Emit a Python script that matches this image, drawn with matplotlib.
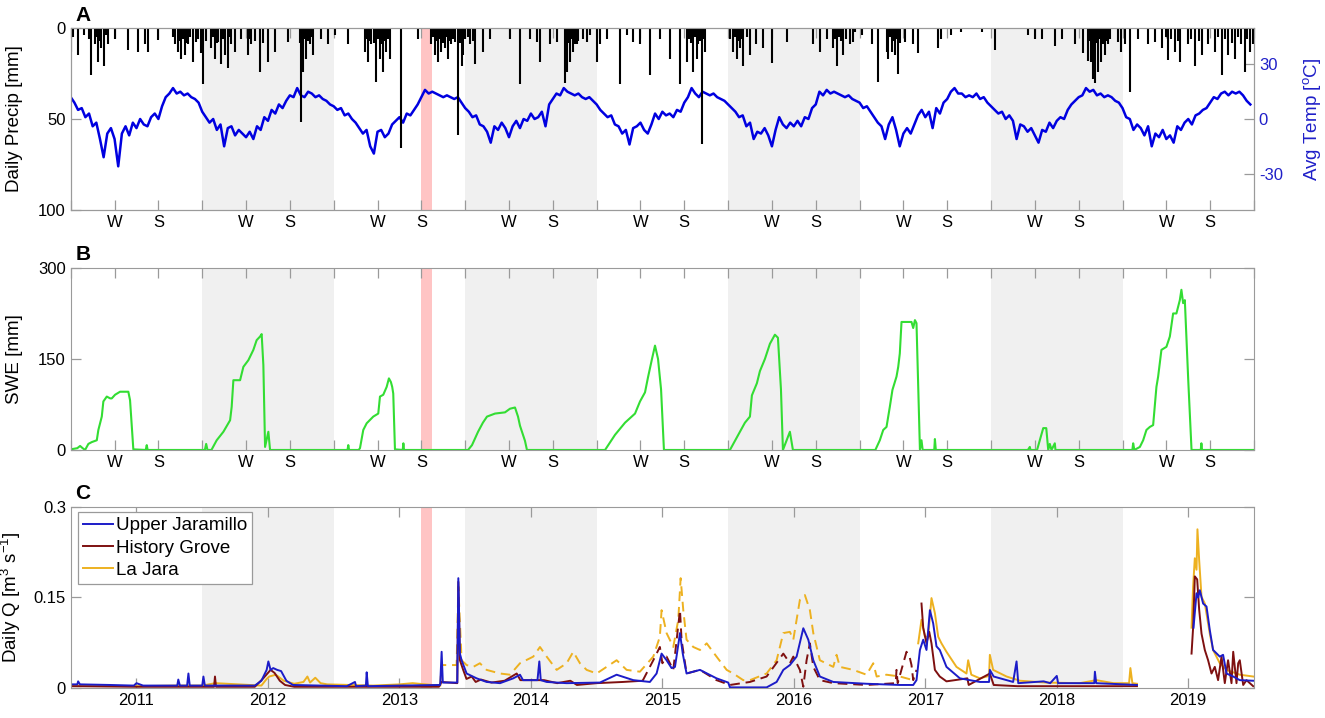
import numpy as np
import matplotlib
matplotlib.use("Agg")
import matplotlib.pyplot as plt

plt.rcParams['font.family'] = ['Liberation Sans', 'DejaVu Sans']
plt.rcParams['mathtext.fontset'] = 'custom'
plt.rcParams['mathtext.rm'] = 'Liberation Sans'
plt.rcParams['mathtext.it'] = 'Liberation Sans:italic'

## Data (x axis in decimal years, as labelled on the figure)

# daily average temperature, sampled every 1/36 year from 2010.5
temp_start = 2010.5
temp_c = [
    12, 9, 5, 6, 1, 3, -4, -2, -11, -21, -8, -5, -11, -26, -8, -4, -9, -2,
    -5, 0, -3, -4, 1, 3, 0, 7, 12, 14, 17, 14, 15, 13, 14, 12, 11, 9,
    4, 1, -2, 0, -6, -3, -15, -5, -4, -9, -6, -8, -10, -7, -11, -4, -6, 1,
    -1, 5, 3, 8, 6, 10, 13, 12, 17, 13, 12, 15, 14, 12, 13, 11, 10, 8,
    7, 5, 6, 2, 3, 0, -2, -5, -8, -6, -15, -19, -7, -6, -10, -8, -3, -1,
    1, -2, 3, 2, 5, 8, 12, 16, 14, 15, 14, 13, 12, 13, 12, 11, 12, 9,
    6, 4, 1, 2, -3, -4, -7, -13, -4, -6, -2, -5, -10, -4, -1, -5, 0, -1,
    3, 0, 1, 4, -4, 8, 11, 14, 13, 17, 15, 14, 13, 14, 12, 11, 12, 10,
    8, 5, 3, 1, 2, -3, -4, -8, -6, -14, -5, -4, -2, -6, -8, -3, 3, 0,
    4, 2, 3, 1, 5, 4, 9, 12, 17, 14, 12, 15, 14, 13, 14, 12, 11, 10,
    8, 6, 4, 1, 2, -4, -2, -11, -7, -8, -5, -9, -15, -6, 1, -3, -5, -2,
    -4, -1, -4, 1, 0, 6, 8, 15, 13, 16, 14, 15, 14, 13, 12, 13, 11, 10,
    9, 6, 7, 4, 1, -2, -4, -11, -3, 1, -6, -15, -8, -5, -8, -3, 2, 5,
    1, 4, -5, 6, 3, 9, 11, 15, 17, 14, 14, 12, 13, 12, 14, 11, 12, 9,
    7, 5, 3, 4, 0, 2, -1, -11, -3, -4, -7, -5, -9, -13, -6, -7, -2, -5,
    -1, 1, 0, 5, 8, 10, 12, 13, 17, 15, 16, 13, 14, 12, 13, 12, 10, 9,
    6, 1, 0, -6, -3, -5, -9, -4, -15, -8, -10, -6, -11, -9, -13, -4, -6, -2,
    0, -3, 2, 3, 5, 6, 9, 12, 11, 14, 15, 13, 15, 14, 15, 13, 10, 8,
]

# daily precipitation events [mm]
precip_x = [
    2010.505, 2010.556, 2010.657, 2010.682, 2010.708, 2010.733, 2010.753, 2010.784,
    2010.834, 2010.936, 2011.012, 2011.063, 2011.088, 2011.164, 2011.291, 2011.316,
    2011.341, 2011.367, 2011.392, 2011.430, 2011.455, 2011.493, 2011.506, 2011.569,
    2011.595, 2011.620, 2011.646, 2011.671, 2011.696, 2011.722, 2011.747, 2011.798,
    2011.848, 2011.874, 2011.937, 2012.000, 2012.051, 2012.152, 2012.254, 2012.267,
    2012.292, 2012.317, 2012.343, 2012.406, 2012.457, 2012.507, 2012.609, 2012.735,
    2012.761, 2012.786, 2012.824, 2012.850, 2012.875, 2012.900, 2012.926, 2013.014,
    2013.141, 2013.243, 2013.268, 2013.293, 2013.319, 2013.344, 2013.369, 2013.395,
    2013.420, 2013.445, 2013.473, 2013.483, 2013.537, 2013.575, 2013.638, 2013.689,
    2013.841, 2013.917, 2013.993, 2014.044, 2014.069, 2014.145, 2014.196, 2014.259,
    2014.272, 2014.297, 2014.322, 2014.348, 2014.398, 2014.424, 2014.449, 2014.500,
    2014.525, 2014.576, 2014.677, 2014.728, 2014.779, 2014.829, 2014.905, 2014.981,
    2015.058, 2015.134, 2015.184, 2015.235, 2015.260, 2015.273, 2015.298, 2015.324,
    2015.514, 2015.539, 2015.564, 2015.590, 2015.615, 2015.666, 2015.716, 2015.767,
    2015.831, 2015.945, 2016.148, 2016.198, 2016.249, 2016.300, 2016.325, 2016.376,
    2016.426, 2016.452, 2016.464, 2016.515, 2016.591, 2016.642, 2016.705, 2016.718,
    2016.743, 2016.769, 2016.794, 2016.845, 2016.908, 2016.946, 2017.098, 2017.123,
    2017.199, 2017.275, 2017.428, 2017.529, 2017.782, 2017.833, 2017.884, 2017.985,
    2018.036, 2018.137, 2018.201, 2018.239, 2018.264, 2018.277, 2018.289, 2018.315,
    2018.340, 2018.365, 2018.391, 2018.467, 2018.492, 2018.518, 2018.556, 2018.619,
    2018.695, 2018.746, 2018.797, 2018.847, 2018.898, 2018.936, 2018.999, 2019.050,
    2019.101, 2019.151, 2019.202, 2019.253, 2019.303, 2019.354, 2019.405, 2019.430,
    2019.468, 2019.493,
    # smaller events inside the wet clusters
    2010.520, 2010.600, 2010.640, 2010.700, 2010.720, 2010.770, 2011.280, 2011.330,
    2011.355, 2011.380, 2011.410, 2011.470, 2011.530, 2011.580, 2011.610, 2011.660,
    2011.710, 2011.860, 2011.900, 2011.960, 2012.240, 2012.280, 2012.305, 2012.330,
    2012.750, 2012.775, 2012.810, 2012.838, 2012.862, 2012.888, 2012.912, 2013.255,
    2013.280, 2013.305, 2013.330, 2013.357, 2013.382, 2013.407, 2013.460, 2013.500,
    2013.520, 2013.560, 2014.285, 2014.310, 2014.335, 2014.360, 2015.200, 2015.220,
    2015.248, 2015.285, 2015.310, 2015.550, 2015.578, 2015.602, 2015.640, 2016.310,
    2016.340, 2016.360, 2016.400, 2016.730, 2016.756, 2016.781, 2016.808, 2018.250,
    2018.300, 2018.328, 2018.352, 2018.378, 2018.404, 2018.830, 2018.870, 2018.920,
    2019.020, 2019.080, 2019.230, 2019.280, 2019.330, 2019.380, 2019.450,
]
precip_mm = [
    13, 15, 26, 9, 18.5, 11, 21, 9, 6, 12, 13, 9, 13, 6.6, 9, 13,
    17, 15, 9, 18.5, 7.5, 14, 31, 11, 17, 7.5, 20, 15, 22, 9, 13, 6,
    15, 9, 24, 18.5, 13, 7.5, 51.5, 24, 17, 9, 15, 6, 9, 4, 9, 13,
    18.5, 9, 29.5, 17, 24, 13, 17, 66, 6, 9, 15, 18.5, 13, 11, 17, 9,
    7.5, 59, 21, 15, 9, 20, 13, 6, 6, 31, 6, 7.5, 18.5, 9, 7.5, 30,
    24, 18.5, 13, 9, 6, 7.5, 4, 18.5, 9, 6, 31, 4, 7.5, 9, 26, 6,
    17, 31, 18.5, 24, 17, 9, 64, 13, 6, 13, 17, 11, 21, 15, 9, 11,
    19, 7.5, 9, 13, 6, 11, 21, 15, 9, 7.5, 2, 4, 9, 29.5, 13, 17,
    13, 15, 25, 7.5, 9, 14, 11, 6, 4, 2, 2, 12, 4, 6, 6, 10,
    6, 9, 14, 18, 18.5, 28, 30, 24, 18.5, 15, 9, 7.5, 13, 9, 35, 6,
    9, 7.5, 11, 17.6, 13, 18.5, 9, 21, 15, 9, 13, 26, 15, 17, 9, 24,
    13, 9,
    5, 4, 6, 5, 7, 4, 5, 7,
    6, 8, 5, 6, 7, 5, 8, 6,
    5, 6, 7, 8, 8, 6, 7, 5,
    6, 7, 8, 6, 9, 7, 6, 5,
    7, 6, 8, 5, 7, 6, 8, 6,
    5, 7, 8, 6, 9, 7, 6, 8,
    5, 7, 6, 5, 7, 6, 5, 6,
    5, 7, 6, 5, 7, 6, 8, 7,
    8, 6, 9, 7, 6, 5, 6, 7,
    6, 7, 5, 6, 8, 5, 6,
]

# snow water equivalent [mm]
swe_x = [
    2010.500, 2010.550, 2010.571, 2010.590, 2010.609, 2010.634, 2010.660, 2010.685,
    2010.698, 2010.710, 2010.736, 2010.748, 2010.774, 2010.800, 2010.812, 2010.837,
    2010.875, 2010.938, 2010.951, 2010.976, 2011.070, 2011.078, 2011.085,
    2011.520, 2011.530, 2011.540, 2011.570, 2011.610, 2011.661, 2011.712, 2011.724,
    2011.737, 2011.788, 2011.813, 2011.851, 2011.889, 2011.914, 2011.940, 2011.952,
    2011.965, 2011.978, 2012.003, 2012.016,
    2012.605, 2012.611, 2012.617, 2012.690, 2012.700, 2012.725, 2012.751, 2012.801,
    2012.839, 2012.852, 2012.877, 2012.903, 2012.920, 2012.935, 2012.945, 2012.953,
    2012.966, 2013.025, 2013.030, 2013.035,
    2013.522, 2013.552, 2013.598, 2013.635, 2013.666, 2013.727, 2013.803, 2013.841,
    2013.879, 2013.902, 2013.917, 2013.932, 2013.955, 2013.970,
    2014.564, 2014.640, 2014.716, 2014.792, 2014.830, 2014.868, 2014.891, 2014.921,
    2014.944, 2014.967, 2014.990, 2015.012,
    2015.514, 2015.590, 2015.628, 2015.666, 2015.681, 2015.719, 2015.742, 2015.780,
    2015.818, 2015.856, 2015.879, 2015.902, 2015.917, 2015.970, 2015.993,
    2016.620, 2016.654, 2016.680, 2016.705, 2016.730, 2016.750, 2016.781, 2016.794,
    2016.806, 2016.819, 2016.895, 2016.908, 2016.921, 2016.933, 2016.959, 2016.971,
    2016.980, 2017.068, 2017.073, 2017.080,
    2017.780, 2017.795, 2017.800, 2017.850, 2017.871, 2017.897, 2017.920, 2017.935,
    2017.947, 2017.960, 2017.985, 2017.990,
    2018.575, 2018.581, 2018.590, 2018.632, 2018.657, 2018.682, 2018.708, 2018.733,
    2018.758, 2018.771, 2018.796, 2018.834, 2018.860, 2018.885, 2018.910, 2018.936,
    2018.948, 2018.961, 2018.974, 2018.987, 2019.000, 2019.025, 2019.095, 2019.100,
    2019.105, 2019.500,
]
swe_mm = [
    1, 3, 6.6, 3, 0, 10, 13, 15,
    16, 33, 55, 80, 88, 85, 85, 91,
    96, 96, 82, 1, 0, 8, 0,
    0, 10, 0, 0, 16, 30, 49, 71,
    115, 115, 137, 148, 165, 181, 187, 191,
    140, 5, 30, 0,
    0, 8, 0, 0, 3, 33, 44, 55,
    60, 88, 91, 104, 118, 112, 104, 93,
    1, 0, 11, 0,
    0, 8, 30, 45, 55, 60, 62, 68,
    70, 55, 40, 30, 15, 0,
    0, 25, 45, 60, 80, 95, 120, 150,
    172, 150, 100, 0,
    0, 30, 45, 55, 90, 110, 130, 150,
    175, 190, 185, 100, 0, 30, 0,
    0, 16, 33, 38, 71, 99, 121, 137,
    159, 211, 211, 201, 214, 209, 1, 16,
    0, 0, 18, 0,
    0, 5, 0, 0, 16, 36, 36, 0,
    10, 0, 11, 0,
    0, 11, 0, 5, 16, 33, 38, 41,
    104, 121, 165, 170, 187, 225, 225, 247,
    264, 242, 247, 181, 115, 0, 0, 11,
    0, 0,
]

# daily discharge [m3/s]
uj_x = [
    2010.50, 2010.550, 2010.556, 2010.570, 2010.80, 2010.98, 2011.00, 2011.05,
    2011.310, 2011.318, 2011.330, 2011.385, 2011.395, 2011.405, 2011.500, 2011.509,
    2011.520, 2011.90, 2011.95, 2011.99, 2012.003, 2012.02, 2012.04, 2012.07,
    2012.10, 2012.14, 2012.19, 2012.60, 2012.662, 2012.67, 2012.745, 2012.751,
    2012.76, 2013.00, 2013.31, 2013.321, 2013.33, 2013.44, 2013.448, 2013.46,
    2013.473, 2013.511, 2013.587, 2013.663, 2013.765, 2013.866, 2013.917, 2013.94,
    2014.05, 2014.064, 2014.075, 2014.12, 2014.272, 2014.525, 2014.652, 2014.779,
    2014.905, 2014.956, 2014.994, 2015.032, 2015.070, 2015.096, 2015.134, 2015.155,
    2015.184, 2015.286, 2015.412, 2015.501, 2015.514, 2015.793, 2015.869, 2015.920,
    2015.970, 2016.021, 2016.072, 2016.110, 2016.148, 2016.198, 2016.300, 2016.553,
    2016.807, 2016.908, 2016.933, 2016.959, 2016.984, 2017.009, 2017.035, 2017.060,
    2017.085, 2017.110, 2017.161, 2017.263, 2017.415, 2017.485, 2017.491, 2017.520,
    2017.668, 2017.694, 2017.707, 2017.900, 2017.950, 2018.000, 2018.010, 2018.285,
    2018.290, 2018.300, 2018.610, 2018.800,
    2019.040, 2019.063, 2019.075, 2019.088, 2019.113, 2019.139, 2019.164, 2019.189,
    2019.240, 2019.265, 2019.291, 2019.342, 2019.392, 2019.494,
]
uj_q = [
    0.006, 0.006, 0.011, 0.006, 0.005, 0.004, 0.008, 0.004,
    0.004, 0.014, 0.004, 0.004, 0.024, 0.004, 0.004, 0.019,
    0.004, 0.004, 0.012, 0.030, 0.044, 0.030, 0.033, 0.030,
    0.028, 0.012, 0.005, 0.003, 0.010, 0.003, 0.004, 0.026,
    0.003, 0.004, 0.005, 0.060, 0.009, 0.009, 0.182, 0.057,
    0.046, 0.024, 0.016, 0.010, 0.008, 0.016, 0.022, 0.013,
    0.013, 0.044, 0.013, 0.010, 0.008, 0.009, 0.022, 0.013,
    0.010, 0.024, 0.057, 0.046, 0.033, 0.035, 0.091, 0.057,
    0.024, 0.030, 0.016, 0.009, 0.001, 0.001, 0.010, 0.030,
    0.038, 0.052, 0.099, 0.080, 0.046, 0.019, 0.010, 0.007,
    0.005, 0.005, 0.013, 0.063, 0.080, 0.063, 0.129, 0.107,
    0.069, 0.063, 0.035, 0.016, 0.010, 0.010, 0.030, 0.019,
    0.010, 0.044, 0.008, 0.011, 0.008, 0.020, 0.008, 0.008,
    0.027, 0.008, 0.005, np.nan,
    0.100, 0.157, 0.150, 0.162, 0.140, 0.135, 0.096, 0.063,
    0.052, 0.055, 0.024, 0.019, 0.013, 0.012,
]

hg_x = [
    2010.50, 2011.00, 2011.590, 2011.597, 2011.605, 2011.90, 2011.96, 2012.00,
    2012.02, 2012.05, 2012.09, 2012.13, 2012.20, 2013.30, 2013.32, 2013.44,
    2013.448, 2013.46, 2013.485, 2013.51, 2013.55, 2013.58, 2013.62, 2013.70,
    2013.80, 2013.892, 2013.92, 2014.10, 2014.20, 2014.30, 2014.35, 2014.50,
    2014.70, 2014.85, 2014.931, 2014.981, 2015.000, 2015.032, 2015.083, 2015.134,
    2015.146, 2015.184, 2015.286, 2015.412, 2015.514, 2015.666, 2015.793, 2015.920,
    2015.970, 2015.996, 2016.046, 2016.072, 2016.097, 2016.122, 2016.148, 2016.198,
    2016.300, 2016.553, 2016.775, 2016.781, 2016.790, 2016.857, 2016.880, 2016.895,
    2016.908, 2016.933, 2016.971, 2016.984, 2017.009, 2017.030, 2017.047, 2017.073,
    2017.110, 2017.161, 2017.320, 2017.330, 2017.491, 2017.520, 2017.700, 2018.610,
    2018.800,
    2019.025, 2019.037, 2019.050, 2019.068, 2019.083, 2019.101, 2019.126, 2019.151,
    2019.177, 2019.202, 2019.227, 2019.253, 2019.278, 2019.303, 2019.329, 2019.342,
    2019.367, 2019.380, 2019.392, 2019.418, 2019.443, 2019.494,
]
hg_q = [
    0.003, 0.002, 0.002, 0.019, 0.002, 0.002, 0.015, 0.025,
    0.030, 0.025, 0.012, 0.005, 0.002, 0.002, 0.010, 0.008,
    0.176, 0.046, 0.030, 0.015, 0.019, 0.010, 0.014, 0.009,
    0.012, 0.024, 0.013, 0.013, 0.008, 0.012, 0.005, 0.008,
    0.010, 0.012, 0.046, 0.068, 0.041, 0.052, 0.030, 0.129,
    0.080, 0.024, 0.030, 0.013, 0.005, 0.010, 0.019, 0.057,
    0.041, 0.052, 0.030, 0.002, 0.046, 0.074, 0.035, 0.013,
    0.008, 0.005, 0.008, 0.030, 0.008, 0.060, 0.052, 0.038,
    0.013, 0.030, 0.140, 0.100, 0.074, 0.093, 0.074, 0.030,
    0.019, 0.011, 0.016, 0.005, 0.024, 0.005, 0.003, 0.003,
    np.nan,
    0.057, 0.100, 0.185, 0.180, 0.130, 0.090, 0.063, 0.046,
    0.024, 0.035, 0.013, 0.052, 0.008, 0.046, 0.008, 0.060,
    0.008, 0.041, 0.046, 0.005, 0.013, 0.003,
]

lj_x = [
    2010.50, 2011.00, 2011.30, 2011.50, 2011.60, 2011.95, 2011.99, 2012.01,
    2012.06, 2012.12, 2012.20, 2012.27, 2012.30, 2012.32, 2012.36, 2012.40,
    2012.45, 2012.80, 2013.00, 2013.10, 2013.30, 2013.31, 2013.32, 2013.435,
    2013.448, 2013.473, 2013.511, 2013.562, 2013.612, 2013.663, 2013.765, 2013.841,
    2013.917, 2014.018, 2014.069, 2014.120, 2014.196, 2014.272, 2014.322, 2014.373,
    2014.424, 2014.500, 2014.576, 2014.652, 2014.728, 2014.829, 2014.931, 2014.981,
    2014.994, 2015.032, 2015.083, 2015.121, 2015.139, 2015.159, 2015.184, 2015.235,
    2015.286, 2015.337, 2015.412, 2015.489, 2015.539, 2015.615, 2015.666, 2015.793,
    2015.869, 2015.920, 2015.970, 2015.996, 2016.046, 2016.084, 2016.122, 2016.148,
    2016.198, 2016.300, 2016.325, 2016.350, 2016.452, 2016.553, 2016.604, 2016.630,
    2016.705, 2016.807, 2016.908, 2016.946, 2016.971, 2016.997, 2017.022, 2017.047,
    2017.073, 2017.098, 2017.123, 2017.161, 2017.237, 2017.313, 2017.326, 2017.350,
    2017.415, 2017.485, 2017.491, 2017.516, 2017.618, 2017.720, 2017.920, 2018.175,
    2018.300, 2018.430, 2018.550, 2018.560, 2018.575, 2018.610, 2018.800,
    2019.025, 2019.037, 2019.050, 2019.063, 2019.070, 2019.083, 2019.101, 2019.126,
    2019.164, 2019.189, 2019.240, 2019.291, 2019.392, 2019.494,
]
lj_q = [
    0.004, 0.003, 0.004, 0.004, 0.008, 0.004, 0.015, 0.019,
    0.022, 0.012, 0.007, 0.010, 0.019, 0.009, 0.017, 0.008,
    0.006, 0.004, 0.006, 0.008, 0.004, 0.004, 0.038, 0.038,
    0.168, 0.046, 0.038, 0.035, 0.041, 0.030, 0.024, 0.022,
    0.041, 0.052, 0.068, 0.052, 0.030, 0.041, 0.060, 0.041,
    0.030, 0.024, 0.035, 0.046, 0.030, 0.027, 0.052, 0.085,
    0.129, 0.091, 0.068, 0.113, 0.182, 0.129, 0.080, 0.068,
    0.063, 0.074, 0.052, 0.030, 0.024, 0.013, 0.013, 0.024,
    0.046, 0.091, 0.093, 0.080, 0.146, 0.154, 0.129, 0.091,
    0.046, 0.035, 0.055, 0.035, 0.030, 0.022, 0.041, 0.019,
    0.022, 0.019, 0.013, 0.074, 0.113, 0.085, 0.085, 0.149,
    0.124, 0.085, 0.074, 0.060, 0.035, 0.024, 0.046, 0.022,
    0.016, 0.020, 0.055, 0.030, 0.019, 0.012, 0.009, 0.008,
    0.013, 0.008, 0.008, 0.033, 0.008, 0.007, np.nan,
    0.100, 0.168, 0.215, 0.196, 0.263, 0.212, 0.151, 0.140,
    0.090, 0.063, 0.041, 0.030, 0.022, 0.019,
]

# periods drawn dashed (gap-filled records)
lj_dashed = (2013.31, 2016.93)
hg_dashed = (2014.85, 2016.95)

# shaded water years and the red highlight
shade_years = [2011.5, 2013.5, 2015.5, 2017.5]
red_band = (2013.161, 2013.249)

x_min, x_max = 2010.5, 2019.5
season_labels = ['', 'W', 'S']
years = list(range(2011, 2020))

## Figure

fig = plt.figure(figsize=(13.25, 7.18), dpi=100)
left, width = 0.0534, 0.893
axA = fig.add_axes([left, 0.7075, width, 0.2535])
axB = fig.add_axes([left, 0.3733, width, 0.2535])
axC = fig.add_axes([left, 0.0418, width, 0.2521])
axT = axA.twinx()

spine_col = '#9a9a9a'
tick_size = 12
label_size = 13.5


def background(ax):
    for s in shade_years:
        ax.axvspan(s, s + 1, color='#f0f0f0', lw=0, zorder=0)
    ax.axvspan(red_band[0], red_band[1], color='#ffc4c4', lw=0, zorder=0)


def style(ax):
    ax.set_xlim(x_min, x_max)
    for sp in ax.spines.values():
        sp.set_color(spine_col)
    ax.tick_params(direction='in', length=7, width=0.9, color=spine_col,
                   labelsize=tick_size, top=True, right=True)


season_ticks = [x_min + n / 3 for n in range(28)]
season_ticklabels = [season_labels[n % 3] for n in range(28)]

# Panel A: precipitation (inverted) and temperature
background(axT)
temp_x = temp_start + np.arange(len(temp_c)) / 36
axT.plot(temp_x, temp_c, color='#0000e0', lw=1.8, zorder=2)
axT.set_ylim(-50, 50)
axT.set_yticks([-30, 0, 30])
axT.set_yticklabels(['-30', '0', '30'])
axT.tick_params(direction='in', length=7, width=0.9, color=spine_col,
                labelsize=tick_size, labelcolor='#1f1fc8')
axT.set_ylabel('Avg Temp [$^{\\rm o}$C]', color='#1f1fc8', fontsize=label_size)
axT.yaxis.set_label_coords(1.04, 0.5)
for sp in axT.spines.values():
    sp.set_color(spine_col)

axA.set_zorder(axT.get_zorder() + 1)
axA.patch.set_visible(False)
axA.vlines(precip_x, 0, precip_mm, color='black', lw=1.5)
axA.set_ylim(100, 0)
axA.set_yticks([0, 50, 100])
style(axA)
axA.tick_params(right=False)
axA.set_xticks(season_ticks)
axA.set_xticklabels(season_ticklabels)
axA.set_ylabel('Daily Precip [mm]', fontsize=label_size)
axA.yaxis.set_label_coords(-0.04, 0.5)

# Panel B: SWE
background(axB)
axB.plot(swe_x, swe_mm, color='#33dd33', lw=1.5, zorder=2)
axB.set_ylim(0, 300)
axB.set_yticks([0, 150, 300])
style(axB)
axB.set_xticks(season_ticks)
axB.set_xticklabels(season_ticklabels)
axB.set_ylabel('SWE [mm]', fontsize=label_size)
axB.yaxis.set_label_coords(-0.04, 0.5)

# Panel C: discharge
background(axC)


def plot_q(ax, x, q, color, label, dashed=None):
    x = np.array(x)
    q = np.array(q, dtype=float)
    if dashed is None:
        ax.plot(x, q, color=color, lw=1.4, label=label, zorder=2)
        return
    inside = (x >= dashed[0]) & (x <= dashed[1])
    outside = (x <= dashed[0]) | (x >= dashed[1])
    ax.plot(x, np.where(outside, q, np.nan), color=color, lw=1.4,
            label=label, zorder=2)
    ax.plot(x, np.where(inside, q, np.nan), color=color, lw=1.4,
            ls=(0, (5, 3)), zorder=2)


plot_q(axC, lj_x, lj_q, '#EDB120', 'La Jara', lj_dashed)
plot_q(axC, hg_x, hg_q, '#7e1010', 'History Grove', hg_dashed)
plot_q(axC, uj_x, uj_q, '#1c1cc8', 'Upper Jaramillo')
axC.set_ylim(0, 0.3)
axC.set_yticks([0, 0.15, 0.3])
axC.set_yticklabels(['0', '0.15', '0.3'])
style(axC)
axC.set_xticks(years)
axC.set_xticklabels([str(y) for y in years])
axC.set_ylabel('Daily Q [m$^3$ s$^{-1}$]', fontsize=label_size)
axC.yaxis.set_label_coords(-0.04, 0.5)

handles, labels = axC.get_legend_handles_labels()
order = [labels.index('Upper Jaramillo'), labels.index('History Grove'),
         labels.index('La Jara')]
leg = axC.legend([handles[i] for i in order], [labels[i] for i in order],
                 loc='upper left', bbox_to_anchor=(0.006, 0.97),
                 borderaxespad=0, fontsize=label_size, frameon=True,
                 fancybox=False, edgecolor=spine_col, framealpha=1,
                 handlelength=1.6, handletextpad=0.2, labelspacing=0.28,
                 borderpad=0.25)
leg.get_frame().set_linewidth(0.9)

# panel letters
fig.text(0.057, 0.978, 'A', fontsize=15, fontweight='bold', va='center')
fig.text(0.057, 0.645, 'B', fontsize=15, fontweight='bold', va='center')
fig.text(0.057, 0.313, 'C', fontsize=15, fontweight='bold', va='center')

fig.savefig('out.png', dpi=100)
